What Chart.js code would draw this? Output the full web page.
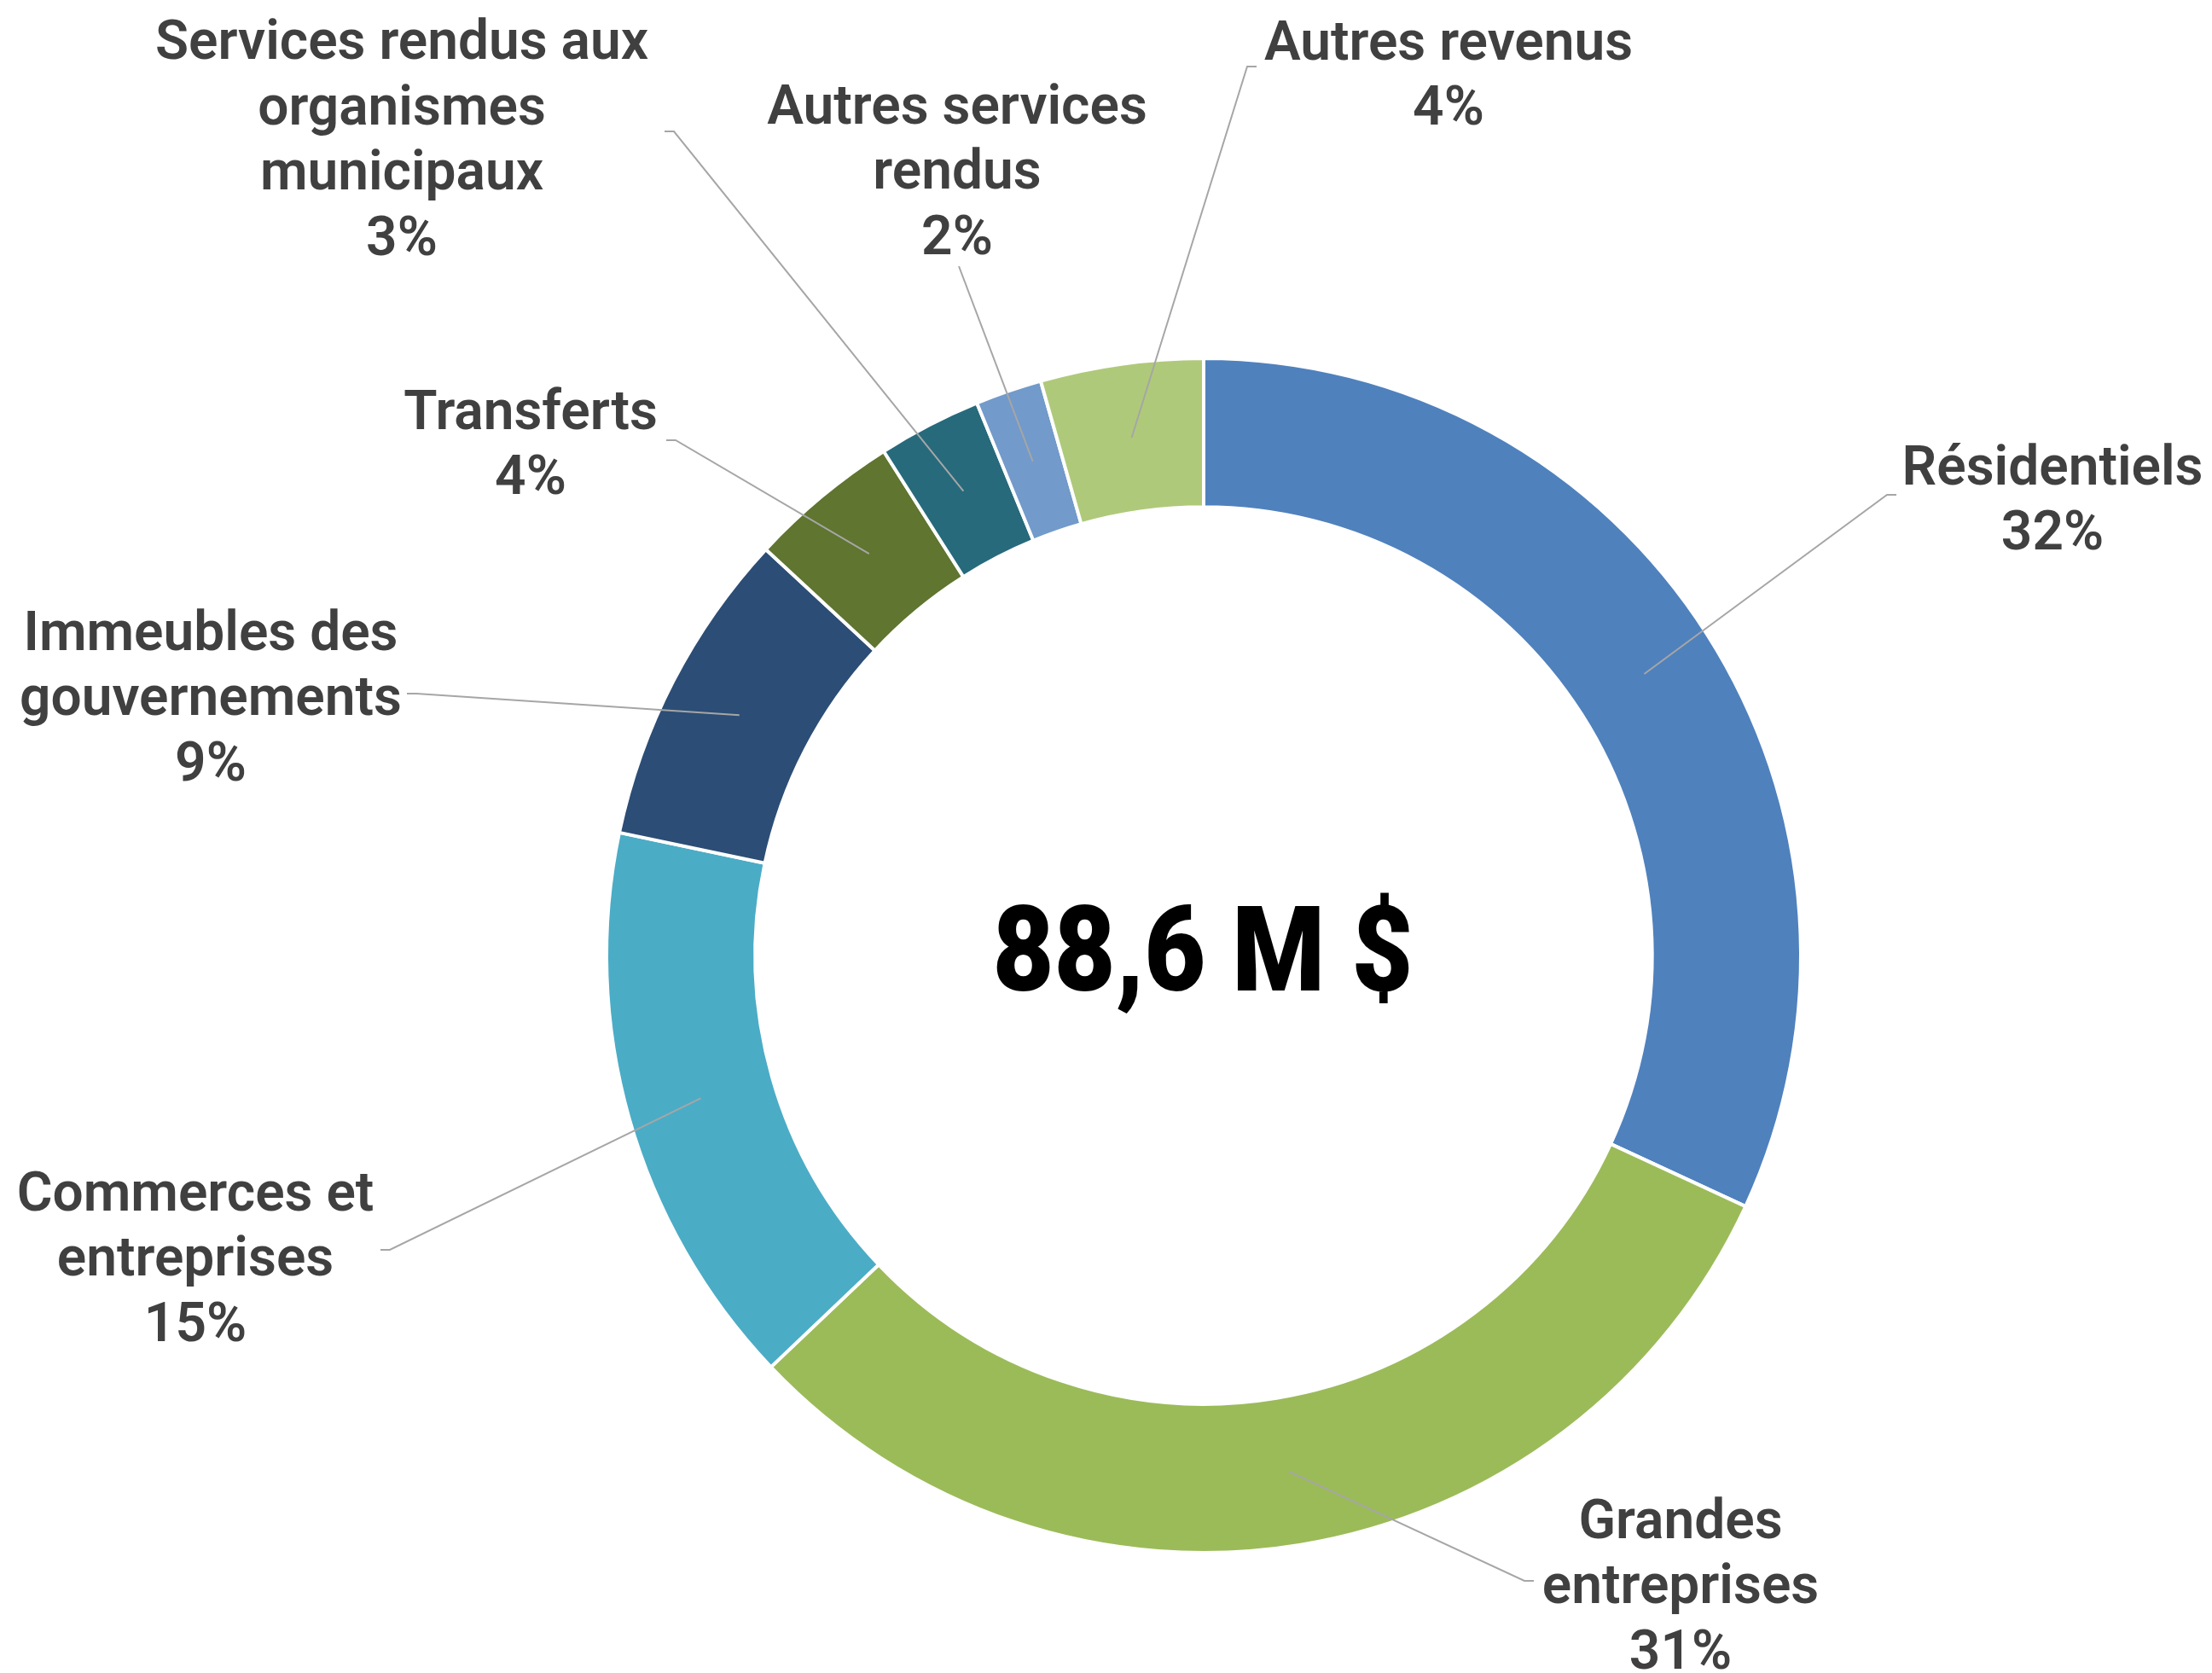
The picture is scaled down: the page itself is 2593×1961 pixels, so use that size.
<!DOCTYPE html>
<html>
<head>
<meta charset="utf-8">
<script src="https://cdn.jsdelivr.net/npm/chart.js@4.4.0/dist/chart.umd.min.js"></script>
<style>
html,body{margin:0;padding:0;background:#fff;overflow:hidden;}
canvas{display:block;}
</style>
</head>
<body>
<canvas id="c" width="2593" height="1961"></canvas>
<script>
// ---- data ----
const categories = ['Résidentiels', 'Grandes entreprises', 'Commerces et entreprises', 'Immeubles des gouvernements', 'Transferts', 'Services rendus aux organismes municipaux', 'Autres services rendus', 'Autres revenus'];
const labelLines = [['Résidentiels'], ['Grandes', 'entreprises'], ['Commerces et', 'entreprises'], ['Immeubles des', 'gouvernements'], ['Transferts'], ['Services rendus aux', 'organismes', 'municipaux'], ['Autres services', 'rendus'], ['Autres revenus']];
const shares = [31.9, 31.0, 15.4, 8.6, 4.1, 2.8, 1.8, 4.4];
const colors = ['#4F81BD', '#9BBB59', '#4BACC6', '#2C4D75', '#5F7530', '#276A7C', '#729ACA', '#AFC97A'];
const centerText = '88,6 M $';

// ---- label layout (offsets from doughnut centre, px) ----
const labelLayout = [
  {dx: 995, dy: -537, ex: 812, ey: -540, side: 'right'},
  {dx: 559, dy: 736, ex: 387, ey: 733, side: 'right'},
  {dx: -1182, dy: 352, ex: -965, ey: 345, side: 'left'},
  {dx: -1164, dy: -305, ex: -934, ey: -307, side: 'left'},
  {dx: -789, dy: -602, ex: -630, ey: -604, side: 'left'},
  {dx: -940, dy: -959, ex: -632, ey: -966, side: 'left'},
  {dx: -289, dy: -922, ex: -287, ey: -808, side: 'none'},
  {dx: 287, dy: -1035, ex: 62, ey: -1042, side: 'right'}
];

const total = shares.reduce((a, b) => a + b, 0);

const labelPlugin = {
  id: 'calloutLabels',
  afterDraw(chart) {
    const ctx = chart.ctx;
    const meta = chart.getDatasetMeta(0);
    const labelFont = '600 64px Roboto, "Open Sans", sans-serif';
    const pitch = 76.5;
    meta.data.forEach((arc, i) => {
      const p = arc.getProps(['x', 'y', 'startAngle', 'endAngle', 'innerRadius', 'outerRadius'], true);
      const mid = (p.startAngle + p.endAngle) / 2;
      const r = (p.innerRadius + p.outerRadius) / 2;
      const ax = p.x + Math.cos(mid) * r;
      const ay = p.y + Math.sin(mid) * r;
      const L = labelLayout[i];
      const ex = p.x + L.ex, ey = p.y + L.ey;
      let bx = ex;
      if (L.side === 'right') bx = ex - 11;
      if (L.side === 'left') bx = ex + 11;
      ctx.save();
      ctx.strokeStyle = '#A6A6A6';
      ctx.lineWidth = 2;
      ctx.beginPath();
      ctx.moveTo(ax, ay);
      ctx.lineTo(bx, ey);
      ctx.lineTo(ex, ey);
      ctx.stroke();
      // text
      const lines = labelLines[i].concat([Math.round(shares[i] / total * 100) + '%']);
      ctx.font = labelFont;
      ctx.fillStyle = '#404040';
      ctx.textAlign = 'center';
      ctx.textBaseline = 'alphabetic';
      const capH = ctx.measureText('H').actualBoundingBoxAscent;
      const n = lines.length;
      const H = capH + (n - 1) * pitch;
      const cx = p.x + L.dx, cy = p.y + L.dy;
      const lastBase = cy + H / 2;
      lines.forEach((t, k) => {
        ctx.fillText(t, cx, lastBase - (n - 1 - k) * pitch);
      });
      ctx.restore();
    });
    // centre text
    const a0 = meta.data[0];
    ctx.save();
    ctx.font = '900 140px Roboto, "Open Sans", sans-serif';
    ctx.fillStyle = '#000000';
    ctx.textAlign = 'center';
    ctx.textBaseline = 'alphabetic';
    const m = ctx.measureText(centerText);
    const sx = Math.min(1, 493 / m.width);
    const capC = ctx.measureText('8').actualBoundingBoxAscent;
    ctx.translate(a0.x - 1, a0.y - 10 + capC / 2);
    ctx.scale(sx, 1);
    ctx.fillText(centerText, 0, 0);
    ctx.restore();
  }
};

new Chart(document.getElementById('c'), {
  type: 'doughnut',
  data: {
    labels: categories,
    datasets: [{
      data: shares,
      backgroundColor: colors,
      borderColor: '#FFFFFF',
      borderWidth: 4,
      hoverOffset: 0
    }]
  },
  options: {
    responsive: false,
    animation: false,
    cutout: '75.1%',
    layout: {padding: {left: 709, right: 480, top: 418, bottom: 139}},
    plugins: {legend: {display: false}, tooltip: {enabled: false}}
  },
  plugins: [labelPlugin]
});
</script>
</body>
</html>
